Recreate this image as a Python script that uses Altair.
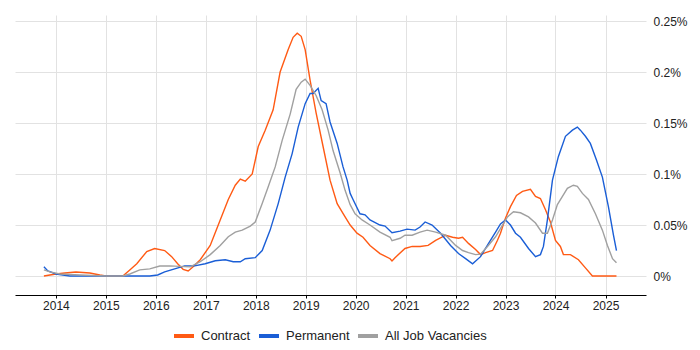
import altair as alt
import pandas as pd

contract_year = [2013.76, 2014.00, 2014.18, 2014.40, 2014.68, 2014.88, 2015.00, 2015.34, 2015.48, 2015.62,
                 2015.82, 2015.98, 2016.18, 2016.32, 2016.44, 2016.55, 2016.65, 2016.75, 2016.89, 2017.09,
                 2017.29, 2017.45, 2017.59, 2017.69, 2017.79, 2017.93, 2018.05, 2018.19, 2018.35, 2018.49,
                 2018.65, 2018.75, 2018.83, 2018.91, 2018.99, 2019.09, 2019.21, 2019.35, 2019.49, 2019.63,
                 2019.79, 2019.89, 2020.03, 2020.15, 2020.29, 2020.49, 2020.69, 2020.73, 2020.79, 2020.99,
                 2021.13, 2021.29, 2021.45, 2021.60, 2021.80, 2021.94, 2022.06, 2022.14, 2022.26, 2022.40,
                 2022.50, 2022.60, 2022.74, 2022.84, 2022.90, 2023.00, 2023.10, 2023.22, 2023.34, 2023.50,
                 2023.60, 2023.70, 2023.80, 2023.90, 2024.00, 2024.10, 2024.16, 2024.30, 2024.46, 2024.60,
                 2024.74, 2025.22]
contract_val = [0.000, 0.002, 0.003, 0.004, 0.003, 0.001, 0.000, 0.000, 0.006, 0.012,
                0.024, 0.027, 0.025, 0.019, 0.012, 0.0066, 0.005, 0.009, 0.016, 0.030,
                0.055, 0.075, 0.089, 0.095, 0.093, 0.100, 0.127, 0.143, 0.163, 0.200,
                0.222, 0.234, 0.238, 0.235, 0.222, 0.192, 0.160, 0.127, 0.094, 0.071,
                0.058, 0.050, 0.042, 0.038, 0.030, 0.022, 0.017, 0.0147, 0.018, 0.027,
                0.029, 0.029, 0.030, 0.035, 0.040, 0.038, 0.037, 0.038, 0.032, 0.026,
                0.021, 0.023, 0.025, 0.035, 0.042, 0.057, 0.068, 0.079, 0.083, 0.085,
                0.078, 0.076, 0.065, 0.053, 0.035, 0.029, 0.021, 0.021, 0.016, 0.008,
                0.000, 0.000]

perm_year = [2013.76, 2013.84, 2014.00, 2014.28, 2015.88, 2016.04, 2016.18, 2016.38, 2016.58, 2016.78,
             2016.99, 2017.19, 2017.39, 2017.55, 2017.69, 2017.79, 2017.99, 2018.13, 2018.29, 2018.45,
             2018.59, 2018.73, 2018.85, 2018.99, 2019.09, 2019.15, 2019.25, 2019.31, 2019.41, 2019.49,
             2019.63, 2019.75, 2019.83, 2019.89, 2019.95, 2020.09, 2020.19, 2020.29, 2020.49, 2020.59,
             2020.73, 2020.89, 2021.03, 2021.19, 2021.29, 2021.39, 2021.53, 2021.70, 2021.90, 2022.06,
             2022.20, 2022.34, 2022.50, 2022.66, 2022.80, 2022.90, 2023.00, 2023.10, 2023.20, 2023.30,
             2023.46, 2023.60, 2023.70, 2023.76, 2023.84, 2023.94, 2024.06, 2024.20, 2024.34, 2024.44,
             2024.50, 2024.60, 2024.70, 2024.82, 2024.94, 2025.06, 2025.16, 2025.22]
perm_val = [0.009, 0.005, 0.002, 0.000, 0.000, 0.001, 0.004, 0.007, 0.010, 0.010,
            0.012, 0.015, 0.016, 0.014, 0.014, 0.017, 0.018, 0.025, 0.045, 0.071,
            0.097, 0.120, 0.146, 0.169, 0.179, 0.179, 0.184, 0.172, 0.169, 0.151,
            0.130, 0.107, 0.094, 0.081, 0.075, 0.061, 0.060, 0.055, 0.050, 0.049,
            0.0425, 0.044, 0.046, 0.045, 0.048, 0.053, 0.050, 0.042, 0.030, 0.022,
            0.017, 0.012, 0.019, 0.032, 0.043, 0.051, 0.055, 0.050, 0.042, 0.038,
            0.027, 0.019, 0.021, 0.029, 0.055, 0.094, 0.117, 0.137, 0.143, 0.146,
            0.143, 0.137, 0.130, 0.114, 0.097, 0.068, 0.040, 0.025]

all_year = [2013.76, 2013.88, 2014.08, 2014.48, 2015.00, 2015.34, 2015.48, 2015.68, 2015.88, 2016.08,
            2016.28, 2016.48, 2016.69, 2016.89, 2017.09, 2017.29, 2017.45, 2017.59, 2017.73, 2017.89,
            2017.99, 2018.13, 2018.25, 2018.39, 2018.53, 2018.69, 2018.81, 2018.91, 2018.99, 2019.09,
            2019.21, 2019.33, 2019.45, 2019.55, 2019.69, 2019.79, 2019.89, 2019.99, 2020.13, 2020.29,
            2020.49, 2020.69, 2020.73, 2020.89, 2020.99, 2021.13, 2021.29, 2021.43, 2021.60, 2021.80,
            2022.00, 2022.14, 2022.26, 2022.40, 2022.50, 2022.64, 2022.80, 2022.94, 2023.04, 2023.16,
            2023.30, 2023.46, 2023.60, 2023.74, 2023.84, 2023.94, 2024.04, 2024.14, 2024.24, 2024.36,
            2024.44, 2024.54, 2024.66, 2024.80, 2024.94, 2025.04, 2025.14, 2025.22]
all_val = [0.006, 0.004, 0.002, 0.001, 0.000, 0.000, 0.002, 0.006, 0.007, 0.0098,
           0.010, 0.0095, 0.009, 0.014, 0.021, 0.030, 0.0385, 0.043, 0.045, 0.049,
           0.053, 0.071, 0.0875, 0.107, 0.133, 0.159, 0.183, 0.190, 0.193, 0.187,
           0.177, 0.163, 0.143, 0.123, 0.101, 0.084, 0.070, 0.061, 0.055, 0.050,
           0.043, 0.038, 0.0346, 0.037, 0.040, 0.040, 0.043, 0.045, 0.043, 0.040,
           0.030, 0.025, 0.023, 0.021, 0.0215, 0.029, 0.0385, 0.050, 0.058, 0.063,
           0.062, 0.058, 0.052, 0.042, 0.042, 0.055, 0.070, 0.078, 0.086, 0.089,
           0.088, 0.081, 0.075, 0.061, 0.045, 0.030, 0.017, 0.013]

series_names = ["Contract", "Permanent", "All Job Vacancies"]
series_colors = ["#FF5A14", "#1A5ED6", "#A0A0A0"]
year_ticks = list(range(2014, 2026))
y_ticks = [0, 0.05, 0.1, 0.15, 0.2, 0.25]


def to_date(y):
    yr = int(y)
    frac = y - yr
    start = pd.Timestamp(year=yr, month=1, day=1)
    return start + pd.Timedelta(days=frac * 365.25)


rows = []
for name, ys, vs in [(series_names[0], contract_year, contract_val),
                     (series_names[1], perm_year, perm_val),
                     (series_names[2], all_year, all_val)]:
    for y, v in zip(ys, vs):
        rows.append({"date": to_date(y), "value": v, "series": name})
df = pd.DataFrame(rows)
df["date"] = df["date"].dt.strftime("%Y-%m-%d")

tick_dates = [pd.Timestamp(year=y, month=1, day=1).isoformat() for y in year_ticks]
x_min = to_date(2013.18).isoformat()
x_max = to_date(2025.81).isoformat()

FONT = "Liberation Sans"

chart = alt.Chart(df).mark_line(strokeWidth=1.4, interpolate="linear").encode(
    x=alt.X("date:T",
            scale=alt.Scale(domain=[x_min, x_max]),
            axis=alt.Axis(title=None, format="%Y", values=tick_dates, grid=True,
                          gridColor="#e2e2e2", domainColor="#000000", domainWidth=1,
                          tickColor="#000000", tickSize=3, labelFontSize=12,
                          labelColor="#222222", labelPadding=2, labelFont=FONT)),
    y=alt.Y("value:Q",
            scale=alt.Scale(domain=[-0.0186, 0.2559], nice=False, zero=False),
            axis=alt.Axis(title=None, orient="right", values=y_ticks, domain=False, ticks=False,
                          gridColor="#e2e2e2", labelExpr="format(datum.value, '~g') + '%'",
                          labelFontSize=12, labelColor="#222222", labelPadding=7, labelFont=FONT)),
    color=alt.Color("series:N",
                    scale=alt.Scale(domain=series_names, range=series_colors),
                    sort=series_names,
                    legend=alt.Legend(title=None, orient="none", legendX=157, legendY=309,
                                      direction="horizontal",
                                      symbolType="stroke", symbolStrokeWidth=4, symbolSize=400,
                                      labelFontSize=13, labelFont=FONT, labelColor="#222222",
                                      labelOffset=5, columnPadding=0)),
).properties(
    width=631, height=280,
    padding={"left": 7, "top": 7, "right": 46, "bottom": 55},
    autosize=alt.AutoSizeParams(type="none"),
).configure_view(stroke=None)

chart.save("out.html", embed_options={"renderer": "svg", "actions": False})
